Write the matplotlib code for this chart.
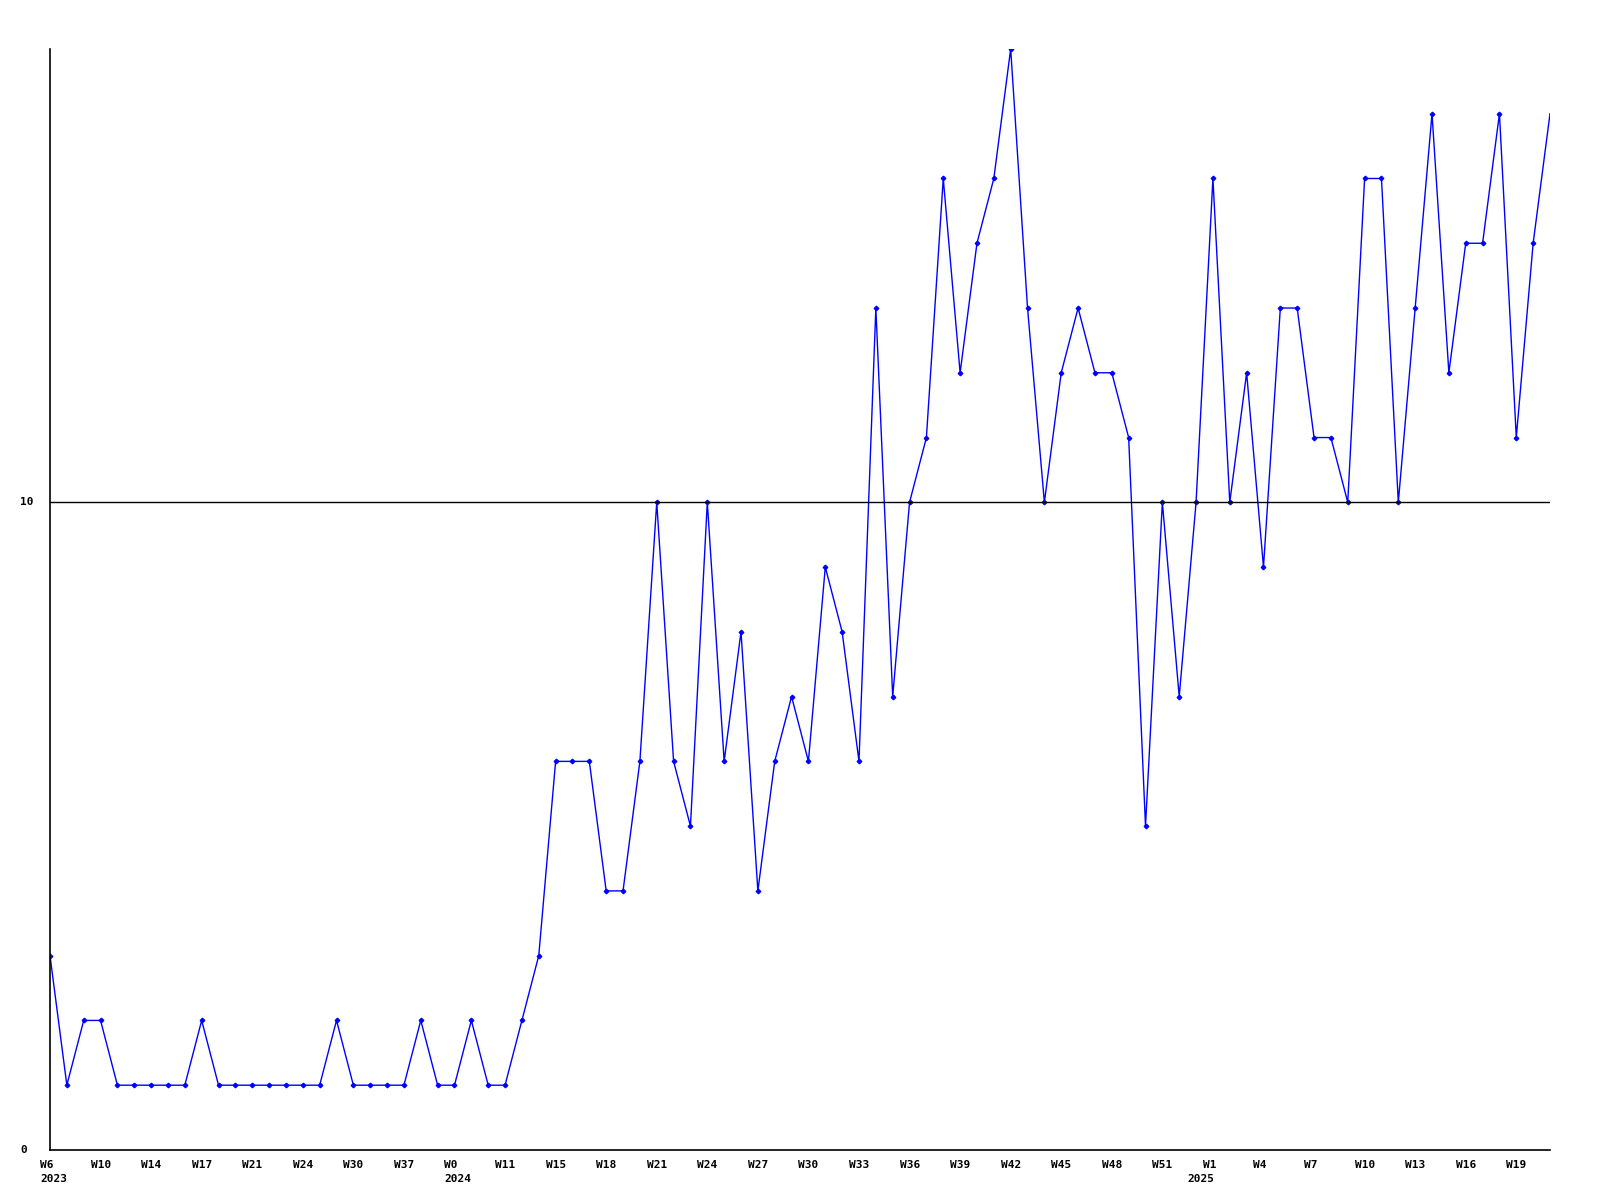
import numpy as np
import matplotlib
matplotlib.use('Agg')
import matplotlib.pyplot as plt

# weekly counts, one per point
values = [3, 1, 2, 2, 1, 1, 1, 1, 1, 2,
          1, 1, 1, 1, 1, 1, 1, 2, 1, 1,
          1, 1, 2, 1, 1, 2, 1, 1, 2, 3,
          6, 6, 6, 4, 4, 6, 10, 6, 5, 10,
          6, 8, 4, 6, 7, 6, 9, 8, 6, 13,
          7, 10, 11, 15, 12, 14, 15, 17, 13, 10,
          12, 13, 12, 12, 11, 5, 10, 7, 10, 15,
          10, 12, 9, 13, 13, 11, 11, 10, 15, 15,
          10, 13, 16, 12, 14, 14, 16, 11, 14, 16]

# a label every third point
week_labels = ['W6', 'W10', 'W14', 'W17', 'W21', 'W24', 'W30', 'W37', 'W0', 'W11',
               'W15', 'W18', 'W21', 'W24', 'W27', 'W30', 'W33', 'W36', 'W39', 'W42',
               'W45', 'W48', 'W51', 'W1', 'W4', 'W7', 'W10', 'W13', 'W16', 'W19']
years = {0: '2023', 8: '2024', 23: '2025'}

font = dict(family='DejaVu Sans Mono', fontweight='bold', fontsize=8)

x = np.arange(len(values))
fig = plt.figure(figsize=(16, 12), dpi=100)
ax = fig.add_axes([0.03125, 0.0417, 0.9375, 0.9175])

ax.plot(x, values, color='#0000ff', lw=1)
ax.plot(x[:-1], values[:-1], ls='none', marker='D', ms=2.3, color='#0000ff')
ax.axhline(10, color='black', lw=1, zorder=3)

ax.set_xlim(0, len(values) - 1)
ax.set_ylim(0, 17)
for s in ['top', 'right']:
    ax.spines[s].set_visible(False)
for s in ['left', 'bottom']:
    ax.spines[s].set_linewidth(1.2)

ax.set_xticks([])
ax.set_yticks([])
for v in [0, 10]:
    ax.annotate(str(v), (0, v), xytext=(-30, 0), textcoords='offset pixels',
                ha='left', va='center', **font)

for k, lab in enumerate(week_labels):
    ax.annotate(lab, (3 * k, 0), xytext=(-10, -10), textcoords='offset pixels',
                ha='left', va='top', **font)
for k, yr in years.items():
    dx = -26 if yr == '2025' else -10
    ax.annotate(yr, (3 * k, 0), xytext=(dx, -24), textcoords='offset pixels',
                ha='left', va='top', **font)

plt.savefig('out.png')
